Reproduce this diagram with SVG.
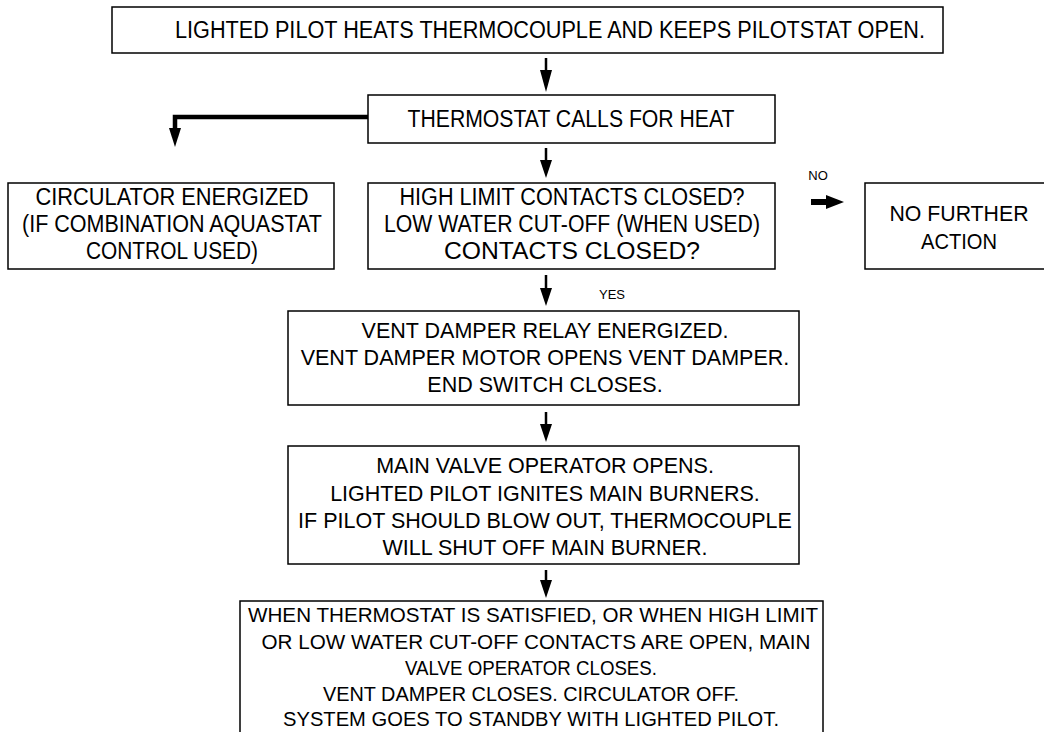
<svg xmlns="http://www.w3.org/2000/svg" width="1044" height="732" viewBox="0 0 1044 732">
<defs>
<style>
.box{fill:#fff;stroke:#000;stroke-width:1.5}
.t{font-family:"Liberation Sans",Arial,sans-serif;font-size:21.5px;fill:#000;text-anchor:middle}
.u{font-family:"Liberation Sans",Arial,sans-serif;font-size:23px;fill:#000;text-anchor:middle}
.b{font-family:"Liberation Sans",Arial,sans-serif;font-size:20.5px;fill:#000;text-anchor:middle}
.s{font-family:"Liberation Sans",Arial,sans-serif;font-size:13px;fill:#000;text-anchor:middle}
.c{stroke:#000;stroke-width:2.5;fill:none}
.ck{stroke:#000;stroke-width:4.5;fill:none}
</style>
</defs>
<rect width="1044" height="732" fill="#fff"/>
<g id="connectors">
<line class="c" x1="546" y1="58" x2="546" y2="73"/>
<polygon points="540,70 552,70 546,92" fill="#000"/>
<line class="c" x1="546" y1="148" x2="546" y2="163"/>
<polygon points="540,160 552,160 546,178" fill="#000"/>
<polyline class="ck" points="368,117 175,117 175,132"/>
<polygon points="169,128 181,128 175,147" fill="#000"/>
<rect x="811" y="199" width="16" height="6" fill="#000"/>
<polygon points="826,195 844,202 826,209" fill="#000"/>
<text class="s" x="818" y="180">NO</text>
<line class="c" x1="546" y1="275" x2="546" y2="291"/>
<polygon points="540,288 552,288 546,306" fill="#000"/>
<text class="s" x="612" y="299">YES</text>
<line class="c" x1="546" y1="412" x2="546" y2="427"/>
<polygon points="540,424 552,424 546,442" fill="#000"/>
<line class="c" x1="546" y1="570" x2="546" y2="583"/>
<polygon points="540,580 552,580 546,598" fill="#000"/>
</g>
<g id="n1"><rect class="box" x="112" y="7" width="831" height="46"/><text class="u" x="550" y="38" textLength="750" lengthAdjust="spacingAndGlyphs">LIGHTED PILOT HEATS THERMOCOUPLE AND KEEPS PILOTSTAT OPEN.</text></g>
<g id="n2"><rect class="box" x="368" y="95" width="407" height="48"/><text class="u" x="571" y="127" textLength="327" lengthAdjust="spacingAndGlyphs">THERMOSTAT CALLS FOR HEAT</text></g>
<g id="n3"><rect class="box" x="8" y="183" width="326" height="86"/>
<text class="u" x="172" y="205" textLength="273" lengthAdjust="spacingAndGlyphs">CIRCULATOR ENERGIZED</text>
<text class="u" x="172" y="232" textLength="300" lengthAdjust="spacingAndGlyphs">(IF COMBINATION AQUASTAT</text>
<text class="u" x="172" y="259" textLength="172" lengthAdjust="spacingAndGlyphs">CONTROL USED)</text></g>
<g id="n4"><rect class="box" x="368" y="183" width="407" height="86"/>
<text class="u" x="572" y="205" textLength="345" lengthAdjust="spacingAndGlyphs">HIGH LIMIT CONTACTS CLOSED?</text>
<text class="u" x="572" y="232" textLength="376" lengthAdjust="spacingAndGlyphs">LOW WATER CUT-OFF (WHEN USED)</text>
<text class="u" x="572" y="259" textLength="256" lengthAdjust="spacingAndGlyphs">CONTACTS CLOSED?</text></g>
<g id="n5"><rect class="box" x="865" y="183" width="185" height="86"/>
<text class="t" x="959" y="221" textLength="139" lengthAdjust="spacingAndGlyphs">NO FURTHER</text>
<text class="t" x="959" y="249" textLength="76" lengthAdjust="spacingAndGlyphs">ACTION</text></g>
<g id="n6"><rect class="box" x="288" y="311" width="511" height="94"/>
<text class="t" x="545" y="338">VENT DAMPER RELAY ENERGIZED.</text>
<text class="t" x="545" y="365">VENT DAMPER MOTOR OPENS VENT DAMPER.</text>
<text class="t" x="545" y="392">END SWITCH CLOSES.</text></g>
<g id="n7"><rect class="box" x="288" y="446" width="511" height="118"/>
<text class="t" x="545" y="473">MAIN VALVE OPERATOR OPENS.</text>
<text class="t" x="545" y="501">LIGHTED PILOT IGNITES MAIN BURNERS.</text>
<text class="t" x="545" y="528">IF PILOT SHOULD BLOW OUT, THERMOCOUPLE</text>
<text class="t" x="545" y="555">WILL SHUT OFF MAIN BURNER.</text></g>
<g id="n8"><rect class="box" x="240" y="601" width="583" height="140"/>
<text class="b" x="533" y="622" textLength="570" lengthAdjust="spacingAndGlyphs">WHEN THERMOSTAT IS SATISFIED, OR WHEN HIGH LIMIT</text>
<text class="b" x="536" y="649" textLength="549" lengthAdjust="spacingAndGlyphs">OR LOW WATER CUT-OFF CONTACTS ARE OPEN, MAIN</text>
<text class="b" x="531" y="675" textLength="252" lengthAdjust="spacingAndGlyphs">VALVE OPERATOR CLOSES.</text>
<text class="b" x="531" y="701" textLength="416" lengthAdjust="spacingAndGlyphs">VENT DAMPER CLOSES. CIRCULATOR OFF.</text>
<text class="b" x="531" y="726" textLength="496" lengthAdjust="spacingAndGlyphs">SYSTEM GOES TO STANDBY WITH LIGHTED PILOT.</text></g>
</svg>
